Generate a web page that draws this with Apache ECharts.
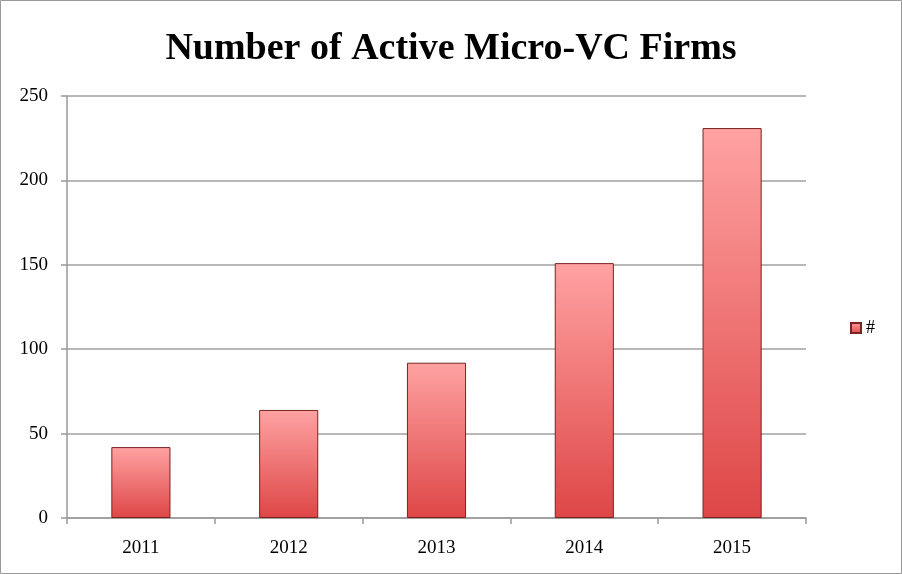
<!DOCTYPE html>
<html><head><meta charset="utf-8">
<script src="https://cdn.jsdelivr.net/npm/echarts@6/dist/echarts.min.js"></script>
<style>html,body{margin:0;padding:0;background:#fff}#c{width:902px;height:574px}</style>
</head><body><div id="c"></div>
<script>
const categories = ['2011','2012','2013','2014','2015'];
const values = [42, 64, 92, 151, 231];
const seriesName = '#';
const titleText = 'Number of Active Micro-VC Firms';

const chart = echarts.init(document.getElementById('c'));
const barColor = new echarts.graphic.LinearGradient(0,0,0,1,[
  {offset:0,color:'#ffa2a2'},{offset:1,color:'#de4646'}]);
chart.setOption({
  animation:false,
  backgroundColor:'#fff',
  title:{text:titleText,left:'center',top:25,
    textStyle:{fontFamily:'Liberation Serif',fontWeight:'bold',fontSize:38,color:'#000'}},
  legend:{orient:'vertical',left:845,top:314,icon:'rect',itemWidth:10,itemHeight:10,itemGap:4,
    textStyle:{fontFamily:'Liberation Serif',fontSize:18,color:'#000'},data:[seriesName]},
  grid:{left:67,right:96,top:96,bottom:56,containLabel:false},
  xAxis:{type:'category',data:categories,boundaryGap:true,
    axisLine:{lineStyle:{color:'#999',width:1.5}},
    axisTick:{show:true,length:6,lineStyle:{color:'#999',width:1.5}},
    axisLabel:{fontFamily:'Liberation Serif',fontSize:19,color:'#000',margin:21}},
  yAxis:{type:'value',min:0,max:250,interval:50,
    axisLine:{show:true,lineStyle:{color:'#999',width:1.5}},
    axisTick:{show:true,length:6,lineStyle:{color:'#999',width:1.5}},
    splitLine:{lineStyle:{color:'#a0a0a0',width:1.5}},
    axisLabel:{fontFamily:'Liberation Serif',fontSize:19,color:'#000',margin:19,padding:[5,0,0,0]}},
  series:[{name:seriesName,type:'bar',data:values,barWidth:'40%',
    itemStyle:{color:barColor,borderColor:'#7a2222',borderWidth:1}}],
  graphic:[{type:'rect',shape:{x:0.5,y:0.5,width:901,height:573},
    style:{fill:'none',stroke:'#999',lineWidth:1},silent:true}]
});
</script></body></html>
